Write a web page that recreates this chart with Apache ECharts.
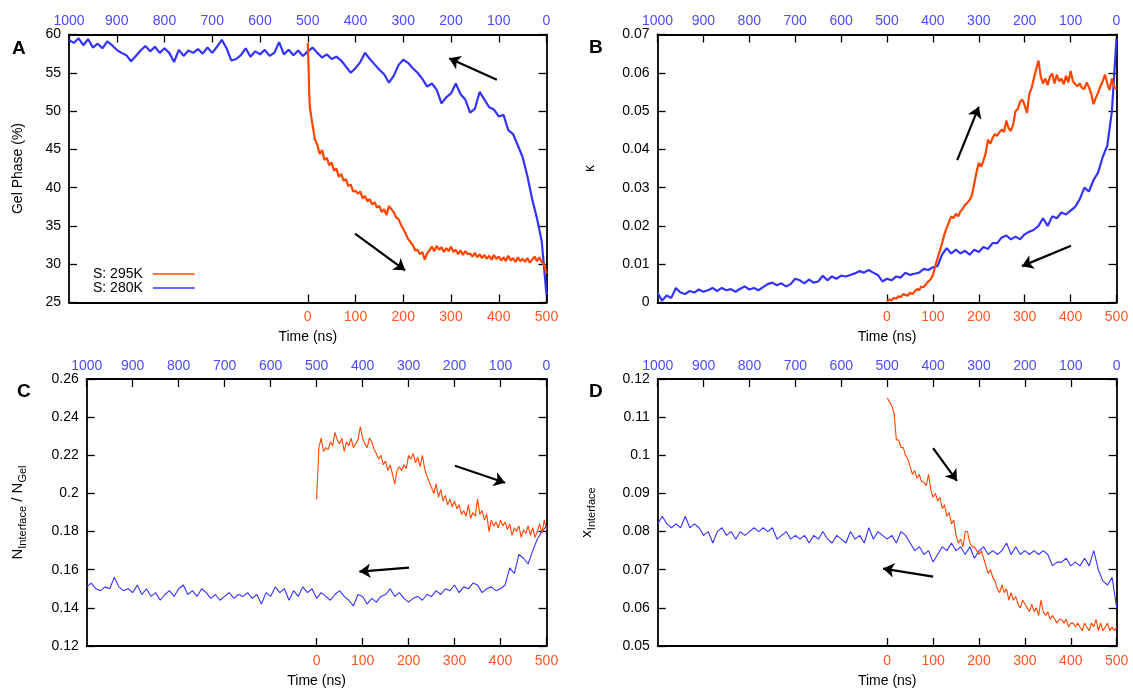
<!DOCTYPE html>
<html>
<head>
<meta charset="utf-8">
<script src="https://cdn.jsdelivr.net/npm/echarts@6/dist/echarts.min.js"></script>
<style>html,body{margin:0;padding:0;background:#fff}#c{width:1133px;height:689px}</style>
</head>
<body>
<div id="c"></div>
<script>
// ---------------- DATA ----------------
const BLUE_STEP = 10;   // ns between blue samples (top axis, S: 280K)
const ORANGE_STEP = 5;  // ns between orange samples (bottom axis, S: 295K)
const topTicks = [0,100,200,300,400,500,600,700,800,900,1000];
const bottomTicks = [0,100,200,300,400,500];

// Panel A: Gel Phase (%)
const blueA = [26,33,36,38.5,41.5,44,45.5,47,47.5,49.5,49.3,50.2,50.5,51.5,52.5,50.3,49.8,51.5,52.2,53.6,
52.3,51.8,51,52.8,53.6,53.2,54.2,55,55.6,56.3,56.7,56,54.6,53.7,54.8,55.4,56.1,56.8,57.6,56.4,
55.6,55,55.8,56.6,57.1,56.8,57.4,57,57.6,58.3,57.8,57.2,57.9,57.3,58,57.4,59,57.6,57.2,58,
57.4,57.8,57.1,58.2,57.3,56.8,56.6,58.2,59.3,58.4,57.6,58.3,57.5,58.1,57.6,57.9,57.2,58,56.4,57.6,
58.2,57.6,58.4,57.8,58.5,57.9,57.2,56.5,57.3,57.6,58,58.6,59.1,58.2,58.8,58.3,59.4,58.6,59.5,58.9,59.3];
const orangeA = [58.9,50.2,48.2,46.3,45.6,44.4,44.9,43.6,43.9,42.9,43.3,42.2,42.5,41.4,41.8,40.9,41.1,40.2,40.4,39.5,
39.6,39.2,39.5,38.6,38.9,38.2,38.5,37.8,38.1,37.4,37.6,36.8,37.2,36.4,37.6,37.2,36.8,36.1,35.9,35.2,
34.6,34,33.3,32.9,32.5,31.8,31.9,31.3,31.6,30.6,31.4,31.8,32.3,31.7,32.4,31.9,32.2,31.6,32.1,31.7,
32.3,31.6,31.9,31.3,31.8,31.2,31.7,31.3,31.4,31,31.5,30.9,31.3,30.8,31.2,30.7,31.1,30.6,31.2,30.7,
31,30.5,30.9,30.4,31.1,30.5,30.8,30.3,30.9,30.4,30.7,30.3,30.8,30.2,30.6,31,30.4,30.9,30.3,29.9,28.8];
const orangeAFine = [[1,57.0],[2,55.4],[3,52.4],[4,51.0]];

// Panel B: kappa
const blueB = [0.069,0.05,0.041,0.038,0.034,0.032,0.029,0.030,0.027,0.025,0.024,0.023,0.0235,0.022,0.0225,0.020,0.022,0.020,0.019,0.0185,
0.0178,0.0165,0.0172,0.0165,0.0175,0.017,0.0155,0.0155,0.014,0.0145,0.0132,0.0138,0.0125,0.0135,0.0128,0.0138,0.0128,0.0142,0.0125,0.0095,
0.0092,0.0085,0.0088,0.0078,0.0075,0.0072,0.0078,0.0065,0.0068,0.0058,0.0062,0.0055,0.0072,0.0078,0.0085,0.0078,0.0082,0.0076,0.0072,0.0068,
0.007,0.0062,0.0068,0.0058,0.007,0.0055,0.0052,0.006,0.005,0.0058,0.0062,0.0048,0.0042,0.005,0.0045,0.0052,0.0048,0.004,0.0032,0.0038,
0.0034,0.0042,0.0036,0.0028,0.0035,0.0032,0.0038,0.003,0.0038,0.0032,0.0028,0.0034,0.0026,0.003,0.0022,0.0026,0.0038,0.0012,0.0018,0.0005,0.0025];
const orangeB = [0.0003,0.0008,0.0006,0.0012,0.001,0.0016,0.0014,0.0022,0.002,0.0018,0.0026,0.0022,0.0028,0.0035,0.0032,0.0042,0.004,0.0048,0.0055,0.006,
0.0072,0.0095,0.0115,0.0135,0.0155,0.0178,0.0195,0.021,0.0225,0.022,0.0232,0.0225,0.0238,0.0245,0.0255,0.026,0.0268,0.028,0.031,0.034,
0.0365,0.0355,0.037,0.039,0.0425,0.0415,0.043,0.044,0.0435,0.0445,0.0452,0.0445,0.0475,0.0455,0.0448,0.0465,0.05,0.0505,0.0525,0.053,
0.0515,0.0495,0.0545,0.056,0.0585,0.061,0.0632,0.059,0.0572,0.0585,0.0568,0.059,0.0598,0.0572,0.0595,0.0578,0.0585,0.057,0.0592,0.0575,
0.0605,0.0578,0.057,0.0565,0.0572,0.056,0.0558,0.0575,0.0562,0.0545,0.0518,0.0535,0.0548,0.0565,0.0578,0.0595,0.0572,0.0555,0.0585,0.0562,0.0558];

// Panel C: N_Interface / N_Gel
const blueC = [0.183,0.18,0.176,0.170,0.163,0.166,0.168,0.158,0.161,0.152,0.150,0.149,0.151,0.150,0.148,0.152,0.153,0.150,0.151,0.148,
0.152,0.149,0.150,0.147,0.149,0.146,0.147,0.144,0.146,0.145,0.143,0.145,0.148,0.146,0.150,0.147,0.146,0.143,0.145,0.142,
0.146,0.147,0.141,0.144,0.146,0.149,0.147,0.144,0.146,0.148,0.145,0.150,0.148,0.151,0.146,0.149,0.144,0.150,0.148,0.151,
0.146,0.148,0.142,0.147,0.145,0.148,0.146,0.147,0.145,0.148,0.146,0.144,0.147,0.145,0.148,0.150,0.146,0.149,0.147,0.152,
0.150,0.146,0.149,0.147,0.144,0.148,0.146,0.150,0.147,0.152,0.148,0.150,0.149,0.151,0.156,0.150,0.151,0.149,0.150,0.153,0.151];
const orangeC = [0.197,0.224,0.229,0.222,0.224,0.223,0.227,0.225,0.232,0.228,0.226,0.229,0.222,0.227,0.225,0.229,0.224,0.226,0.228,0.235,
0.229,0.226,0.224,0.229,0.227,0.223,0.221,0.218,0.220,0.215,0.217,0.212,0.215,0.210,0.205,0.212,0.214,0.212,0.215,0.213,
0.220,0.218,0.221,0.216,0.219,0.214,0.220,0.213,0.209,0.206,0.203,0.200,0.205,0.198,0.202,0.196,0.199,0.194,0.197,0.193,
0.196,0.192,0.194,0.189,0.191,0.188,0.194,0.187,0.190,0.188,0.197,0.189,0.191,0.186,0.189,0.180,0.186,0.183,0.185,0.182,
0.186,0.183,0.185,0.181,0.184,0.178,0.182,0.180,0.183,0.177,0.181,0.179,0.183,0.178,0.182,0.177,0.180,0.184,0.179,0.186,0.181];

// Panel D: x_Interface
const blueD = [0.060,0.068,0.066,0.067,0.070,0.075,0.071,0.073,0.071,0.072,0.071,0.073,0.072,0.072,0.071,0.074,0.075,0.074,0.075,0.074,
0.075,0.074,0.076,0.074,0.077,0.075,0.074,0.075,0.074,0.076,0.075,0.073,0.076,0.074,0.076,0.075,0.077,0.075,0.076,0.074,
0.072,0.075,0.074,0.076,0.075,0.077,0.079,0.080,0.077,0.079,0.078,0.079,0.080,0.078,0.081,0.077,0.079,0.078,0.080,0.077,
0.078,0.079,0.077,0.078,0.080,0.078,0.079,0.077,0.079,0.078,0.079,0.078,0.080,0.079,0.078,0.081,0.080,0.081,0.080,0.081,
0.080,0.079,0.080,0.078,0.080,0.079,0.081,0.080,0.077,0.080,0.079,0.081,0.082,0.081,0.084,0.081,0.082,0.081,0.082,0.084,0.082];
const orangeD = [0.115,0.114,0.113,0.111,0.104,0.104,0.102,0.102,0.100,0.099,0.097,0.095,0.096,0.094,0.095,0.093,0.093,0.092,0.095,0.091,
0.089,0.090,0.088,0.089,0.086,0.087,0.084,0.085,0.082,0.083,0.079,0.077,0.078,0.076,0.080,0.080,0.077,0.076,0.076,0.075,
0.074,0.075,0.073,0.071,0.069,0.070,0.068,0.067,0.065,0.064,0.066,0.064,0.065,0.062,0.064,0.062,0.063,0.061,0.060,0.062,
0.061,0.060,0.059,0.061,0.059,0.060,0.058,0.062,0.059,0.058,0.059,0.057,0.058,0.057,0.056,0.057,0.057,0.056,0.057,0.055,
0.056,0.056,0.055,0.056,0.055,0.054,0.056,0.055,0.054,0.056,0.055,0.057,0.054,0.056,0.054,0.055,0.056,0.054,0.055,0.054,0.055];

// Arrows in (top-axis time, value) coordinates: [x1, y1, x2, y2], head at (x2, y2)
const arrowsA = [[104,54.1,204,56.9],[401,34.0,296,29.2]];
const arrowsB = [[347,0.0372,300,0.0511],[99,0.0148,206,0.0095]];
const arrowsC = [[199,0.2145,90,0.2056],[299,0.1611,407,0.1590]];
const arrowsD = [[400,0.1019,348,0.0933],[400,0.0682,509,0.0703]];

const yRanges = [[25,60,5],[0,0.07,0.01],[0.12,0.26,0.02],[0.05,0.12,0.01]];
const seriesNames = ['S: 295K','S: 280K'];
const panelLetters = ['A','B','C','D'];

// ---------------- LAYOUT / STYLE ----------------
const FONT = 'Liberation Sans, Arial, Helvetica, sans-serif';
const BLUE = '#3333ff', ORANGE = '#ff4500';
const BLUE_TXT = '#4a4aff', ORANGE_TXT = '#ff5522';
const grids = [
  {left:69, top:34.5, width:477.5, height:268},
  {left:657.5, top:34.5, width:459, height:268},
  {left:86.7, top:379, width:459.8, height:267.5},
  {left:657.7, top:379, width:459, height:267.5}
];
const yNames = [
  {name:'Gel Phase (%)', gap:44},
  {name:'κ', gap:60},
  {name:'{n|N}{s|Interface}{n| / N}{s|Gel}', gap:56},
  {name:'{n|x}{s|Interface}', gap:58}
];
const letterPos = [[12,39],[589,38],[17,382],[589,382]];
const lineWidths = [2.2,2.2,1.1,1.1];

function pairs(vals, step){ return vals.map((v,i)=>[i*step, v]); }
const plainNum = v => String(v);

const blueVals = [blueA, blueB, blueC, blueD];
const orangeData = [
  pairs(orangeA, ORANGE_STEP).concat(orangeAFine).sort((a,b)=>a[0]-b[0]),
  pairs(orangeB, ORANGE_STEP), pairs(orangeC, ORANGE_STEP), pairs(orangeD, ORANGE_STEP)
];
const arrows = [arrowsA, arrowsB, arrowsC, arrowsD];

const axisLine = {show:true, onZero:false, lineStyle:{color:'#000', width:1.8}};
const tick = {show:true, inside:true, length:8, lineStyle:{color:'#000', width:1.3}};

const xAxes = [], yAxes = [], series = [];
grids.forEach((g,p)=>{
  xAxes.push({
    gridIndex:p, type:'value', position:'top', inverse:true, min:0, max:1000, interval:100,
    axisLine, axisTick:tick, splitLine:{show:false},
    axisLabel:{color:BLUE_TXT, fontSize:14, fontFamily:FONT, margin:6, customValues:topTicks, formatter:plainNum},
  });
  xAxes.push({
    gridIndex:p, type:'value', position:'bottom', min:-500, max:500, interval:100,
    axisLine, axisTick:Object.assign({customValues:bottomTicks}, tick), splitLine:{show:false},
    axisLabel:{color:ORANGE_TXT, fontSize:14, fontFamily:FONT, margin:8, customValues:bottomTicks, formatter:plainNum},
    name:'Time (ns)', nameLocation:'middle', nameGap:28,
    nameTextStyle:{color:'#000', fontSize:14, fontFamily:FONT}
  });
  const r = yRanges[p];
  yAxes.push({
    gridIndex:p, type:'value', position:'left', min:r[0], max:r[1], interval:r[2],
    axisLine, axisTick:tick, splitLine:{show:false},
    axisLabel:{color:'#000', fontSize:14, fontFamily:FONT, margin:8},
    name:yNames[p].name, nameLocation:'middle', nameRotate:90, nameGap:yNames[p].gap,
    nameTextStyle:{color:'#000', fontSize:14, fontFamily:FONT,
      rich:{n:{fontSize:15, fontFamily:FONT, color:'#000', verticalAlign:'top', lineHeight:20},
            s:{fontSize:11, fontFamily:FONT, color:'#000', verticalAlign:'top', lineHeight:20, padding:[7,0,0,0]}}}
  });
  yAxes.push({
    gridIndex:p, type:'value', position:'right', min:r[0], max:r[1], interval:r[2],
    axisLine, axisTick:tick, splitLine:{show:false}, axisLabel:{show:false}
  });
  series.push({
    name:seriesNames[0], type:'line', xAxisIndex:2*p+1, yAxisIndex:2*p,
    data:orangeData[p], showSymbol:false, symbol:'none', color:ORANGE,
    lineStyle:{color:ORANGE, width:lineWidths[p]}, z:3
  });
  series.push({
    name:seriesNames[1], type:'line', xAxisIndex:2*p, yAxisIndex:2*p,
    data:pairs(blueVals[p], BLUE_STEP), showSymbol:false, symbol:'none', color:BLUE,
    lineStyle:{color:BLUE, width:lineWidths[p]}, z:2,
    markLine:{silent:true, symbol:['none','arrow'], symbolSize:11, animation:false,
      lineStyle:{color:'#000', width:2.2, type:'solid'}, label:{show:false},
      data:arrows[p].map(a=>[{coord:[a[0],a[1]]},{coord:[a[2],a[3]]}])}
  });
});

const chart = echarts.init(document.getElementById('c'), null, {renderer:'canvas'});
chart.setOption({
  animation:false,
  backgroundColor:'#fff',
  title: panelLetters.map((t,i)=>({text:t, left:letterPos[i][0], top:letterPos[i][1], padding:0,
    textStyle:{fontSize:19, fontWeight:'bold', color:'#000', fontFamily:FONT}})),
  legend:{data:seriesNames, orient:'vertical', left:88, top:262, align:'right', icon:'rect',
    itemWidth:42, itemHeight:1.6, itemGap:0, selectedMode:false,
    textStyle:{fontSize:14, lineHeight:14, color:'#000', fontFamily:FONT, padding:[0,5,0,0]}},
  grid:grids,
  xAxis:xAxes,
  yAxis:yAxes,
  series
});
</script>
</body>
</html>
